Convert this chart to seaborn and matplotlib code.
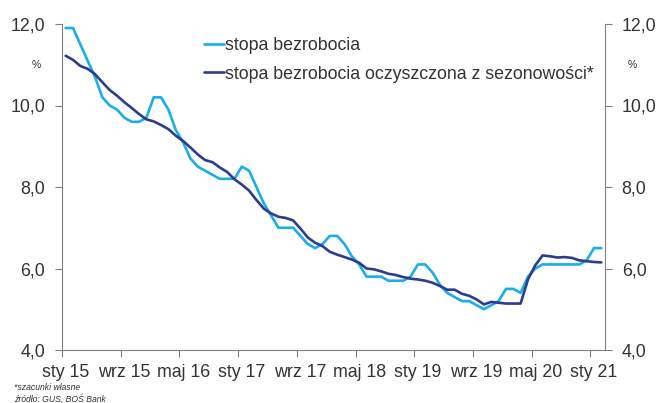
import numpy as np
import pandas as pd

import matplotlib as mpl
import matplotlib.pyplot as plt
import seaborn as sns

sns.set_style("white")
plt.rcParams['font.family'] = ['Liberation Sans', 'DejaVu Sans']

# miesiace od sty 2015 do lut 2021
month_names = ['sty', 'lut', 'mar', 'kwi', 'maj', 'cze', 'lip', 'sie', 'wrz', 'paź', 'lis', 'gru']
years = [15, 16, 17, 18, 19, 20, 21]
n_months = 74

stopa = [11.9, 11.9, 11.5, 11.1, 10.7, 10.2, 10.0, 9.9, 9.7, 9.6, 9.6, 9.7,
         10.2, 10.2, 9.9, 9.4, 9.1, 8.7, 8.5, 8.4, 8.3, 8.2, 8.2, 8.2,
         8.5, 8.4, 8.0, 7.6, 7.3, 7.0, 7.0, 7.0, 6.8, 6.6, 6.5, 6.6,
         6.8, 6.8, 6.6, 6.3, 6.1, 5.8, 5.8, 5.8, 5.7, 5.7, 5.7, 5.8,
         6.1, 6.1, 5.9, 5.6, 5.4, 5.3, 5.2, 5.2, 5.1, 5.0, 5.1, 5.2,
         5.5, 5.5, 5.4, 5.8, 6.0, 6.1, 6.1, 6.1, 6.1, 6.1, 6.1, 6.2,
         6.5, 6.5]

stopa_sa = [11.22, 11.12, 10.97, 10.90, 10.77, 10.57, 10.38, 10.24, 10.08, 9.94, 9.79, 9.66,
            9.61, 9.52, 9.42, 9.26, 9.13, 8.97, 8.80, 8.66, 8.61, 8.48, 8.37, 8.19,
            8.06, 7.91, 7.68, 7.47, 7.35, 7.27, 7.24, 7.18, 6.98, 6.76, 6.63, 6.55,
            6.41, 6.34, 6.28, 6.22, 6.14, 6.00, 5.98, 5.93, 5.87, 5.84, 5.79, 5.75,
            5.73, 5.70, 5.65, 5.57, 5.48, 5.48, 5.38, 5.33, 5.24, 5.12, 5.18, 5.16,
            5.14, 5.14, 5.14, 5.73, 6.08, 6.32, 6.30, 6.27, 6.28, 6.26, 6.20, 6.18,
            6.16, 6.15]

labels = [f"{month_names[i % 12]} {years[i // 12]}" for i in range(n_months)]

df = pd.DataFrame({'idx': np.arange(n_months),
                   'stopa bezrobocia': stopa,
                   'stopa bezrobocia oczyszczona z sezonowości*': stopa_sa})
df_long = df.melt(id_vars='idx', var_name='seria', value_name='val')

light = '#19AEEA'
dark = '#2D3C8E'
grey = '#808080'
txt = '#333333'
fs = 12.8

fig = plt.figure(figsize=(6.56, 4.03), dpi=100)
ax = fig.add_axes([62/656, 1 - 350/403, (605-62)/656, (350-24)/403])

sns.lineplot(data=df_long, x='idx', y='val', hue='seria',
             palette=[light, dark], linewidth=1.9, ax=ax, legend=True)

ax.set_xlim(-0.5, n_months - 0.5)
ax.set_ylim(4.0, 12.0)
ax.set_xlabel('')
ax.set_ylabel('')

# y ticks po obu stronach
yt = [4.0, 6.0, 8.0, 10.0, 12.0]
ax.set_yticks(yt)
ax.set_yticklabels([f"{v:.1f}".replace('.', ',') for v in yt])
ax.tick_params(axis='y', which='major', left=True, right=True, labelleft=True, labelright=True,
               direction='out', length=5, width=0.8, color=grey, labelsize=fs,
               labelcolor=txt, pad=7)

# x: etykiety co 8 miesiecy, kreski na granicach kategorii
lab_pos = list(range(0, n_months, 8))
ax.set_xticks(lab_pos)
ax.set_xticklabels([labels[i] for i in lab_pos])
ax.set_xticks([p - 0.5 for p in lab_pos], minor=True)
ax.tick_params(axis='x', which='major', length=0, labelsize=fs, labelcolor=txt, pad=10)
ax.tick_params(axis='x', which='minor', bottom=True, direction='out', length=5, width=0.8, color=grey)

for s in ['left', 'right', 'bottom']:
    ax.spines[s].set_color(grey)
    ax.spines[s].set_linewidth(0.8)
ax.spines['top'].set_visible(False)
ax.grid(False)

leg = ax.legend(loc='upper left', bbox_to_anchor=(204/656, 1 - 37.5/403),
                bbox_transform=fig.transFigure, frameon=False, fontsize=fs,
                handlelength=1.12, handletextpad=0.05, labelspacing=0.63,
                borderpad=0, borderaxespad=0)
for t in leg.get_texts():
    t.set_color(txt)
for l in leg.get_lines():
    l.set_linewidth(1.9)

fig.text(36/656, 1 - 65/403, '%', fontsize=7.5, color=txt, ha='center', va='center')
fig.text(632/656, 1 - 65/403, '%', fontsize=7.5, color=txt, ha='center', va='center')

fig.text(14/656, 1 - 387.5/403, '*szacunki własne', fontsize=6.2, style='italic', color=txt, va='center')
fig.text(14/656, 1 - 398.5/403, 'źródło: GUS, BOŚ Bank', fontsize=6.2, style='italic', color=txt, va='center')

fig.savefig('out.png', dpi=100)
